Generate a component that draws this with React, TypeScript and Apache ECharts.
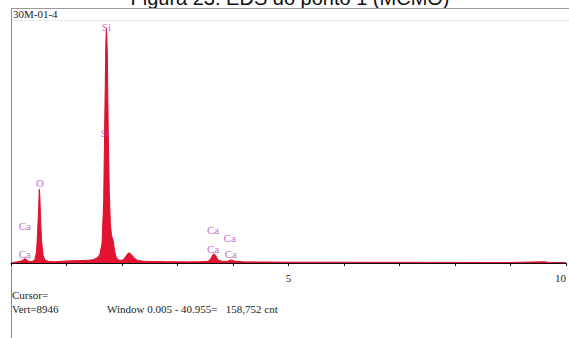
import React, { useEffect, useRef } from "react";
import * as echarts from "echarts";

// Spectrum: energy (keV) and counts
const energies = [
  0.0, 0.1, 0.18, 0.22, 0.25, 0.28, 0.32, 0.38, 0.43, 0.46, 0.48, 0.5, 0.51, 0.52, 0.53, 0.55, 0.58, 0.62,
  0.7, 0.8, 0.9, 1.0, 1.1, 1.2, 1.3, 1.4, 1.48, 1.55, 1.6, 1.64, 1.67, 1.69, 1.71, 1.72, 1.735, 1.75, 1.77,
  1.79, 1.81, 1.84, 1.87, 1.9, 1.95, 2.0, 2.05, 2.1, 2.13, 2.17, 2.22, 2.28, 2.4, 2.6, 2.8, 3.0, 3.2, 3.4,
  3.55, 3.6, 3.64, 3.66, 3.69, 3.73, 3.8, 3.9, 3.96, 4.02, 4.2, 4.6, 5.0, 5.5, 6.0, 6.5, 7.0, 7.5, 8.0, 8.5,
  9.0, 9.6, 9.7, 10.0,
];
const counts = [
  0, 40, 70, 110, 160, 120, 60, 50, 120, 400, 1100, 2100, 2650, 2400, 1700, 800, 250, 90,
  50, 45, 60, 70, 80, 85, 90, 100, 120, 180, 300, 700, 2200, 5200, 8000, 8450, 7600, 5000, 2600,
  1400, 1000, 800, 400, 180, 100, 90, 180, 330, 370, 300, 180, 90, 60, 50, 45, 45, 40, 45,
  60, 150, 300, 330, 260, 110, 60, 60, 110, 70, 40, 35, 30, 30, 28, 25, 25, 22, 22, 20,
  20, 45, 20, 15,
];

// Element labels: name, energy, label height (counts)
const peakNames = ["Si", "Si", "O", "Ca", "Ca", "Ca", "Ca", "Ca", "Ca"];
const peakEnergies = [1.72, 1.7, 0.52, 0.25, 0.25, 3.64, 3.94, 3.64, 3.96];
const peakLabelCounts = [8479, 4671, 2874, 1330, 330, 1186, 898, 503, 323];

const xTickLabels = ["5", "10"];
const verticalMax = 8946;

const chartTitle = "Figura 23: EDS do ponto 1 (MCMO)";
const sampleName = "30M-01-4";
const cursorText = "Cursor=";
const vertText = "Vert=8946";
const windowText = "Window 0.005 - 40.955=   158,752 cnt";

export default function App() {
  const ref = useRef<HTMLDivElement>(null);
  useEffect(() => {
    if (!ref.current) return;
    const chart = echarts.init(ref.current, null, { renderer: "svg" });
    const serif = "Liberation Serif";
    const lineData = energies.map((e, i) => [e, counts[i]]);
    const labelData = peakNames.map((n, i) => [peakEnergies[i], peakLabelCounts[i], n]);
    chart.setOption({
      animation: false,
      backgroundColor: "#ffffff",
      grid: { left: 11, right: 0, top: 14, bottom: 75 },
      xAxis: {
        type: "value",
        min: 0,
        max: 10,
        interval: 1,
        axisLine: { show: true, lineStyle: { color: "#111", width: 1 } },
        axisTick: { show: true, length: 3, lineStyle: { color: "#111" } },
        splitLine: { show: false },
        axisLabel: {
          fontFamily: serif,
          fontSize: 11,
          color: "#222",
          margin: 9,
          alignMaxLabel: "right",
          formatter: (v: number) => (xTickLabels.includes(String(v)) ? String(v) : ""),
        },
      },
      yAxis: {
        type: "value",
        min: 0,
        max: verticalMax,
        show: false,
        splitLine: { show: false },
      },
      series: [
        {
          type: "line",
          data: lineData,
          symbol: "none",
          lineStyle: { color: "#d8102e", width: 1 },
          areaStyle: { color: "#e3142f", opacity: 1 },
          z: 2,
        },
        {
          type: "scatter",
          data: labelData,
          symbolSize: 0,
          z: 5,
          label: {
            show: true,
            position: [0, 0],
            align: "center",
            verticalAlign: "middle",
            fontFamily: serif,
            fontSize: 11,
            color: "#b444c4",
            formatter: (p: any) => p.data[2],
          },
        },
      ],
      graphic: [
        {
          type: "text",
          x: 290,
          y: 8,
          style: {
            text: chartTitle,
            fontFamily: "Liberation Sans",
            fontSize: 20,
            fill: "#111",
            align: "center",
            verticalAlign: "bottom",
          },
        },
        { type: "line", shape: { x1: 11, y1: 8.5, x2: 569, y2: 8.5 }, style: { stroke: "#9a9a9a", lineWidth: 1 } },
        { type: "line", shape: { x1: 11, y1: 20.5, x2: 569, y2: 20.5 }, style: { stroke: "#ececec", lineWidth: 1 } },
        { type: "line", shape: { x1: 11.5, y1: 8, x2: 11.5, y2: 338 }, style: { stroke: "#8a8a8a", lineWidth: 1 } },
        {
          type: "text",
          x: 13,
          y: 14,
          style: { text: sampleName, fontFamily: serif, fontSize: 11, fill: "#222", verticalAlign: "middle" },
        },
        {
          type: "text",
          x: 12,
          y: 295,
          style: { text: cursorText, fontFamily: serif, fontSize: 11, fill: "#222", verticalAlign: "middle" },
        },
        {
          type: "text",
          x: 12,
          y: 309,
          style: { text: vertText, fontFamily: serif, fontSize: 11, fill: "#222", verticalAlign: "middle" },
        },
        {
          type: "text",
          x: 107,
          y: 309,
          style: { text: windowText, fontFamily: serif, fontSize: 11, fill: "#222", verticalAlign: "middle" },
        },
      ],
    });
    return () => chart.dispose();
  }, []);
  return (
    <div
      ref={ref}
      style={{ position: "absolute", left: 0, top: 0, width: 569, height: 338, background: "#fff" }}
    />
  );
}
